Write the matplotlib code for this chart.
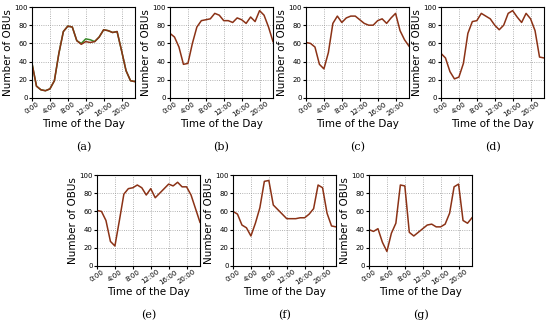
import numpy as np
import matplotlib
matplotlib.use("Agg")
import matplotlib.pyplot as plt

hours = list(range(24))
tick_pos = [0, 4, 8, 12, 16, 20]
tick_labels = ["0:00", "4:00", "8:00", "12:00", "16:00", "20:00"]

a_obus = [38, 13, 9, 8, 10, 19, 49, 73, 79, 78, 63, 59, 62, 61, 62, 67, 75, 74, 72, 73, 52, 30, 19, 18]
a_green = [38, 13, 9, 8, 10, 19, 49, 73, 79, 78, 63, 60, 65, 64, 62, 67, 75, 74, 72, 73, 52, 30, 19, 18]
b_obus = [71, 67, 56, 37, 38, 60, 78, 85, 86, 87, 93, 91, 85, 85, 83, 88, 86, 82, 89, 84, 96, 91, 78, 62]
c_obus = [61, 60, 56, 37, 32, 50, 82, 90, 83, 88, 90, 90, 86, 82, 80, 80, 85, 87, 82, 88, 93, 74, 64, 57]
d_obus = [49, 44, 29, 21, 23, 38, 71, 84, 85, 93, 90, 87, 80, 75, 80, 93, 96, 89, 83, 93, 87, 74, 45, 44]
e_obus = [61, 60, 50, 27, 22, 50, 79, 85, 86, 89, 86, 78, 85, 75, 80, 85, 90, 88, 92, 87, 87, 78, 63, 48]
f_obus = [60, 57, 45, 42, 33, 47, 64, 93, 94, 67, 62, 57, 52, 52, 52, 53, 53, 57, 63, 89, 86, 58, 44, 43]
g_obus = [40, 38, 41, 26, 16, 36, 47, 89, 88, 37, 33, 37, 41, 45, 46, 43, 43, 46, 58, 87, 90, 50, 47, 53]

series = [a_obus, b_obus, c_obus, d_obus, e_obus, f_obus, g_obus]
letters = ["(a)", "(b)", "(c)", "(d)", "(e)", "(f)", "(g)"]

W, H = 550, 325
fig = plt.figure(figsize=(5.5, 3.25), dpi=100)

# axes boxes in pixels: left, top
boxes = [(32, 7), (170, 7), (306, 7), (441, 7), (97, 175), (233, 175), (369, 175)]
aw, ah = 103, 91

for i, (x0, y0) in enumerate(boxes):
    ax = fig.add_axes([x0 / W, 1 - (y0 + ah) / H, aw / W, ah / H])
    if i == 0:
        ax.plot(hours, a_green, color="#3a8a2a", lw=1.1)
    ax.plot(hours, series[i], color="#8b3216", lw=1.1)
    ax.set_xlim(0, 23)
    ax.set_ylim(0, 100)
    ax.set_yticks([0, 20, 40, 60, 80, 100])
    ax.set_xticks(tick_pos)
    ax.set_xticklabels(tick_labels, rotation=35, fontsize=5)
    ax.tick_params(axis="y", labelsize=5, length=2, pad=1)
    ax.tick_params(axis="x", length=2, pad=0)
    ax.grid(True, linestyle=":", color="#999999", lw=0.6)
    ax.set_ylabel("Number of OBUs", fontsize=7.5, labelpad=1)
    ax.set_xlabel("Time of the Day", fontsize=7.5, labelpad=1)
    for s in ax.spines.values():
        s.set_linewidth(0.8)
    fig.text((x0 + aw / 2) / W, 1 - (y0 + 140) / H, letters[i],
             ha="center", va="center", fontsize=8, family="DejaVu Serif")

fig.savefig("out.png", dpi=100)
